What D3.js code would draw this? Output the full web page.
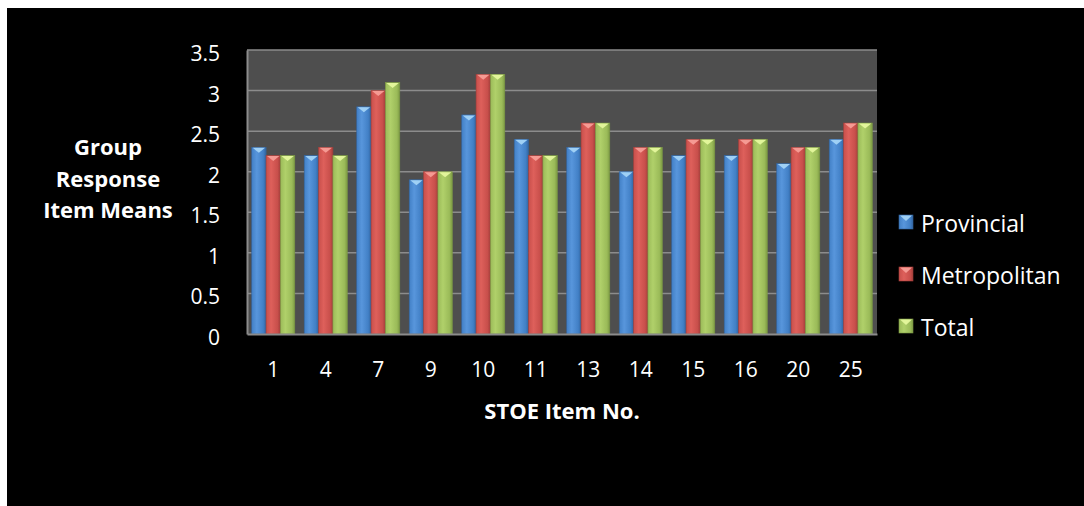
<!DOCTYPE html>
<html>
<head>
<meta charset="utf-8">
<script src="https://cdn.jsdelivr.net/npm/d3@7"></script>
<style>
  body { margin: 0; background: #ffffff; }
  text { font-family: "Open Sans", sans-serif; fill: #ffffff; }
</style>
</head>
<body>
<div id="chart"></div>
<script>
// data
var items = ["1", "4", "7", "9", "10", "11", "13", "14", "15", "16", "20", "25"];
var provincial   = [2.3, 2.2, 2.8, 1.9, 2.7, 2.4, 2.3, 2.0, 2.2, 2.2, 2.1, 2.4];
var metropolitan = [2.2, 2.3, 3.0, 2.0, 3.2, 2.2, 2.6, 2.3, 2.4, 2.4, 2.3, 2.6];
var total        = [2.2, 2.2, 3.1, 2.0, 3.2, 2.2, 2.6, 2.3, 2.4, 2.4, 2.3, 2.6];
var seriesNames = ["Provincial", "Metropolitan", "Total"];
var yTicks = [0, 0.5, 1, 1.5, 2, 2.5, 3, 3.5];

var colors = {
  Provincial:   {light: "#5896dc", base: "#4280c6", dark: "#3265a0", top: "#9fd0f5"},
  Metropolitan: {light: "#de605b", base: "#c84f4b", dark: "#a33f3b", top: "#f59a93"},
  Total:        {light: "#b0d06a", base: "#9bbb59", dark: "#7d9a44", top: "#e2f59a"}
};

var W = 1084, H = 506;
var margin = {top: 50, right: 207, bottom: 172, left: 247};
var width = W - margin.left - margin.right,
    height = H - margin.top - margin.bottom;

var svg = d3.select("#chart").append("svg")
  .attr("width", W).attr("height", H);

// black chart area inside a thin white border
svg.append("rect").attr("x", 7).attr("y", 8)
  .attr("width", W - 7).attr("height", H - 8).attr("fill", "#000");

var defs = svg.append("defs");
seriesNames.forEach(function(s, i) {
  var g = defs.append("linearGradient").attr("id", "grad" + i)
    .attr("x1", "0%").attr("x2", "100%").attr("y1", "0%").attr("y2", "0%");
  g.append("stop").attr("offset", "0%").attr("stop-color", colors[s].base);
  g.append("stop").attr("offset", "35%").attr("stop-color", colors[s].light);
  g.append("stop").attr("offset", "80%").attr("stop-color", colors[s].base);
  g.append("stop").attr("offset", "100%").attr("stop-color", colors[s].dark);
});

var g = svg.append("g")
  .attr("transform", "translate(" + margin.left + "," + margin.top + ")");

var table = items.map(function(d, i) {
  return {item: d, values: [provincial[i], metropolitan[i], total[i]]};
});

var x0 = d3.scaleBand().domain(items).range([0, width]).paddingInner(0.18).paddingOuter(0.09);
var x1 = d3.scaleBand().domain(seriesNames).range([0, x0.bandwidth()]);
var y = d3.scaleLinear().domain([0, 3.5]).range([height, 0]);

// plot background
g.append("rect").attr("width", width).attr("height", height).attr("fill", "#4e4e4e");

// gridlines
g.append("g").selectAll("line")
  .data(yTicks.filter(function(d) { return d > 0; }))
  .enter().append("line")
  .attr("x1", 0).attr("x2", width)
  .attr("y1", function(d) { return y(d); })
  .attr("y2", function(d) { return y(d); })
  .attr("stroke", "#8c8c8c").attr("stroke-width", 1.5);

// bars
var groups = g.append("g").selectAll("g")
  .data(table).enter().append("g")
  .attr("transform", function(d) { return "translate(" + x0(d.item) + ",0)"; });

var bars = groups.selectAll("g")
  .data(function(d) {
    return d.values.map(function(v, i) { return {name: seriesNames[i], idx: i, value: v}; });
  })
  .enter().append("g");

bars.append("rect")
  .attr("x", function(d) { return x1(d.name); })
  .attr("y", function(d) { return y(d.value); })
  .attr("width", x1.bandwidth())
  .attr("height", function(d) { return height - y(d.value); })
  .attr("fill", function(d) { return "url(#grad" + d.idx + ")"; })
  .attr("stroke", function(d) { return colors[d.name].dark; })
  .attr("stroke-width", 0.6);

// bevel triangle on top of each bar
bars.append("path")
  .attr("d", function(d) {
    var bx = x1(d.name), by = y(d.value), bw = x1.bandwidth();
    return "M" + (bx + 1) + "," + (by + 0.5) + "L" + (bx + bw - 1) + "," + (by + 0.5) +
           "L" + (bx + bw / 2) + "," + (by + 5.5) + "Z";
  })
  .attr("fill", function(d) { return colors[d.name].top; });

// axes
var yAxis = g.append("g").call(d3.axisLeft(y).tickValues(yTicks).tickSize(0).tickPadding(27)
  .tickFormat(function(d) { return d; }));
yAxis.select(".domain").attr("stroke", "#8c8c8c").attr("stroke-width", 2);
yAxis.selectAll("text").attr("font-size", "21px").attr("fill", "#fff")
  .attr("dy", "0.5em")
  .attr("font-family", "'Open Sans', sans-serif");

var xAxis = g.append("g").attr("transform", "translate(0," + height + ")")
  .call(d3.axisBottom(x0).tickSize(0).tickPadding(28));
xAxis.select(".domain").attr("stroke", "#8c8c8c").attr("stroke-width", 2);
xAxis.selectAll("text").attr("font-size", "21px").attr("fill", "#fff")
  .attr("font-family", "'Open Sans', sans-serif");

// axis titles
svg.append("text")
  .attr("x", (margin.left + margin.left + width) / 2).attr("y", 419)
  .attr("text-anchor", "middle").attr("font-size", "22px").attr("font-weight", "bold")
  .text("STOE Item No.");

var yTitle = svg.append("text")
  .attr("text-anchor", "middle").attr("font-size", "22px").attr("font-weight", "bold");
["Group", "Response", "Item Means"].forEach(function(t, i) {
  yTitle.append("tspan").attr("x", 108).attr("y", 155 + i * 31.7).text(t);
});

// legend
var legend = svg.append("g").attr("transform", "translate(899,215)");
var li = legend.selectAll("g").data(seriesNames).enter().append("g")
  .attr("transform", function(d, i) { return "translate(0," + (i * 52) + ")"; });
li.append("rect").attr("width", 14).attr("height", 14)
  .attr("fill", function(d, i) { return "url(#grad" + i + ")"; })
  .attr("stroke", function(d) { return colors[d].dark; }).attr("stroke-width", 0.6);
li.append("path").attr("d", "M1,0.5L13,0.5L7,6Z")
  .attr("fill", function(d) { return colors[d].top; });
li.append("text").attr("x", 22).attr("y", 17).attr("font-size", "23px").text(function(d) { return d; });
</script>
</body>
</html>
